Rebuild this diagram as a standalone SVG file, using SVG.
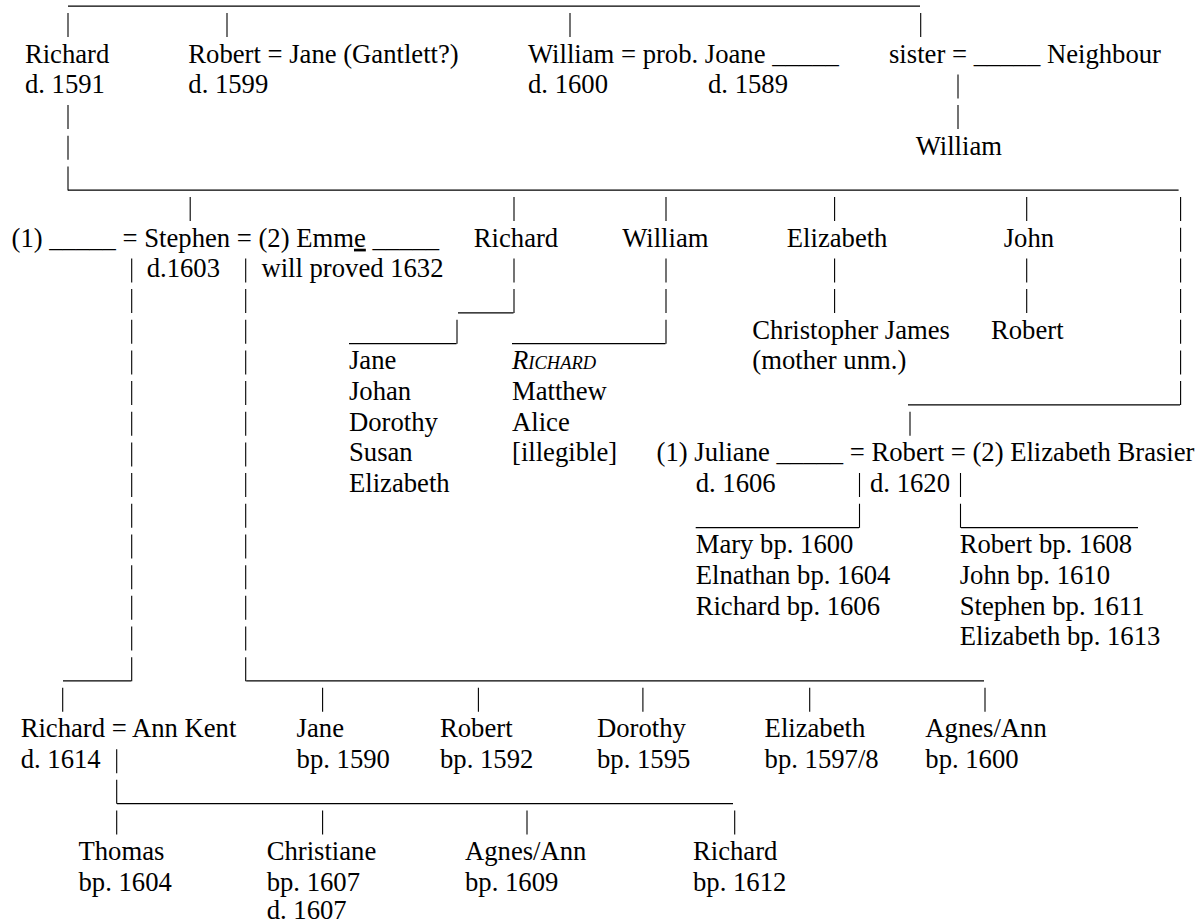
<svg xmlns="http://www.w3.org/2000/svg" width="1200" height="924" viewBox="0 0 1200 924">
<style>
text { font-family: "Liberation Serif", "Times New Roman", serif; font-size: 26.67px; fill: #000; }
.h { stroke: #000; stroke-width: 1.2; fill: none; }
.p { stroke: #000; stroke-width: 1.1; fill: none; stroke-dasharray: 24 6.67; }
</style>
<rect width="1200" height="924" fill="#fff"/>
<g id="connectors">
  <line class="h" x1="68" y1="6.2" x2="920" y2="6.2"/>
  <line class="p" x1="68" y1="13.07" x2="68" y2="37.07"/>
  <line class="p" x1="227" y1="13.07" x2="227" y2="37.07"/>
  <line class="p" x1="570" y1="13.07" x2="570" y2="37.07"/>
  <line class="p" x1="920.7" y1="13.07" x2="920.7" y2="37.07"/>
  <line class="p" x1="958" y1="74.41" x2="958" y2="129.08"/>
  <line class="p" x1="68" y1="105.08" x2="68" y2="190.42"/>
  <line class="h" x1="68" y1="190.2" x2="1178.6" y2="190.2"/>
  <line class="p" x1="190.2" y1="197.09" x2="190.2" y2="221.09"/>
  <line class="p" x1="514" y1="197.09" x2="514" y2="221.09"/>
  <line class="p" x1="666" y1="197.09" x2="666" y2="221.09"/>
  <line class="p" x1="834.6" y1="197.09" x2="834.6" y2="221.09"/>
  <line class="p" x1="1026.7" y1="197.09" x2="1026.7" y2="221.09"/>
  <line class="p" x1="1180.6" y1="197.09" x2="1180.6" y2="405.11"/>
  <line class="p" x1="514" y1="258.43" x2="514" y2="313.1"/>
  <line class="p" x1="666" y1="258.43" x2="666" y2="343.77"/>
  <line class="p" x1="834.6" y1="258.43" x2="834.6" y2="313.1"/>
  <line class="p" x1="1026.7" y1="258.43" x2="1026.7" y2="313.1"/>
  <line class="p" x1="131.7" y1="258.43" x2="131.7" y2="681.14"/>
  <line class="p" x1="245.7" y1="258.43" x2="245.7" y2="681.14"/>
  <line class="h" x1="458" y1="312.9" x2="513.5" y2="312.9"/>
  <line class="p" x1="457" y1="319.77" x2="457" y2="343.77"/>
  <line class="h" x1="349" y1="343.6" x2="456.5" y2="343.6"/>
  <line class="h" x1="512" y1="343.6" x2="665.5" y2="343.6"/>
  <line class="h" x1="908" y1="404.9" x2="1180" y2="404.9"/>
  <line class="p" x1="910" y1="411.78" x2="910" y2="435.78"/>
  <line class="p" x1="859.5" y1="473.12" x2="859.5" y2="527.79"/>
  <line class="p" x1="960.5" y1="473.12" x2="960.5" y2="527.79"/>
  <line class="h" x1="695.7" y1="527.6" x2="859" y2="527.6"/>
  <line class="h" x1="961" y1="527.6" x2="1138" y2="527.6"/>
  <line class="h" x1="63" y1="680.9" x2="131.2" y2="680.9"/>
  <line class="h" x1="246.2" y1="680.9" x2="984" y2="680.9"/>
  <line class="p" x1="62.7" y1="687.81" x2="62.7" y2="711.81"/>
  <line class="p" x1="322.6" y1="687.81" x2="322.6" y2="711.81"/>
  <line class="p" x1="478.4" y1="687.81" x2="478.4" y2="711.81"/>
  <line class="p" x1="642.9" y1="687.81" x2="642.9" y2="711.81"/>
  <line class="p" x1="809.7" y1="687.81" x2="809.7" y2="711.81"/>
  <line class="p" x1="985" y1="687.81" x2="985" y2="711.81"/>
  <line class="p" x1="116.7" y1="749.15" x2="116.7" y2="834.49"/>
  <line class="h" x1="117" y1="803.6" x2="733" y2="803.6"/>
  <line class="p" x1="322.6" y1="810.49" x2="322.6" y2="834.49"/>
  <line class="p" x1="527" y1="810.49" x2="527" y2="834.49"/>
  <line class="p" x1="734.7" y1="810.49" x2="734.7" y2="834.49"/>
</g>
<g id="richard-d1591"><text x="24.9" y="62.74">Richard</text><text x="24.9" y="93.41">d. 1591</text></g>
<g id="robert-jane"><text x="188.3" y="62.74">Robert = Jane (Gantlett?)</text><text x="188.3" y="93.41">d. 1599</text></g>
<g id="william-joane"><text x="528" y="62.74">William = prob. Joane _____</text><text x="528" y="93.41">d. 1600</text><text x="708" y="93.41">d. 1589</text></g>
<g id="sister-neighbour"><text x="889" y="62.74">sister = _____ Neighbour</text></g>
<g id="william-neighbour"><text x="915.7" y="154.75">William</text></g>
<g id="stephen"><text x="11.5" y="246.76">(1) _____ = Stephen = (2) Emm<tspan text-decoration="underline">e</tspan> _____</text><text x="146.7" y="277.43">d.1603</text><text x="261.4" y="277.43">will proved 1632</text></g>
<g id="richard-2"><text x="473.8" y="246.76">Richard</text></g>
<g id="william-2"><text x="622.2" y="246.76">William</text></g>
<g id="elizabeth-2"><text x="786.8" y="246.76">Elizabeth</text></g>
<g id="john-2"><text x="1003.7" y="246.76">John</text></g>
<g id="richard-children"><text x="349" y="369.44">Jane</text><text x="349" y="400.11">Johan</text><text x="349" y="430.78">Dorothy</text><text x="349" y="461.45">Susan</text><text x="349" y="492.12">Elizabeth</text></g>
<g id="william-children"><text x="512" y="369.44" font-style="italic">R<tspan font-size="18.5">ICHARD</tspan></text><text x="512" y="400.11">Matthew</text><text x="512" y="430.78">Alice</text><text x="512" y="461.45">[illegible]</text></g>
<g id="christopher-james"><text x="752.3" y="338.77">Christopher James</text><text x="752.3" y="369.44">(mother unm.)</text></g>
<g id="robert-john"><text x="991" y="338.77">Robert</text></g>
<g id="robert-juliane-elizabeth"><text x="656.6" y="461.45">(1) Juliane _____ = Robert = (2) Elizabeth Brasier</text><text x="695.7" y="492.12">d. 1606</text><text x="870" y="492.12">d. 1620</text></g>
<g id="juliane-children"><text x="695.7" y="553.46">Mary bp. 1600</text><text x="695.7" y="584.13">Elnathan bp. 1604</text><text x="695.7" y="614.8">Richard bp. 1606</text></g>
<g id="brasier-children"><text x="959.7" y="553.46">Robert bp. 1608</text><text x="959.7" y="584.13">John bp. 1610</text><text x="959.7" y="614.8">Stephen bp. 1611</text><text x="959.7" y="645.47">Elizabeth bp. 1613</text></g>
<g id="richard-ann-kent"><text x="20.7" y="737.48">Richard = Ann Kent</text><text x="20.7" y="768.15">d. 1614</text></g>
<g id="jane-1590"><text x="296.6" y="737.48">Jane</text><text x="296.6" y="768.15">bp. 1590</text></g>
<g id="robert-1592"><text x="440" y="737.48">Robert</text><text x="440" y="768.15">bp. 1592</text></g>
<g id="dorothy-1595"><text x="597" y="737.48">Dorothy</text><text x="597" y="768.15">bp. 1595</text></g>
<g id="elizabeth-1597"><text x="764.6" y="737.48">Elizabeth</text><text x="764.6" y="768.15">bp. 1597/8</text></g>
<g id="agnes-1600"><text x="925.3" y="737.48">Agnes/Ann</text><text x="925.3" y="768.15">bp. 1600</text></g>
<g id="thomas-1604"><text x="78.5" y="860.16">Thomas</text><text x="78.5" y="890.83">bp. 1604</text></g>
<g id="christiane-1607"><text x="266.7" y="860.16">Christiane</text><text x="266.7" y="890.83">bp. 1607</text><text x="266.7" y="918.5">d. 1607</text></g>
<g id="agnes-1609"><text x="465" y="860.16">Agnes/Ann</text><text x="465" y="890.83">bp. 1609</text></g>
<g id="richard-1612"><text x="693" y="860.16">Richard</text><text x="693" y="890.83">bp. 1612</text></g>
</svg>
